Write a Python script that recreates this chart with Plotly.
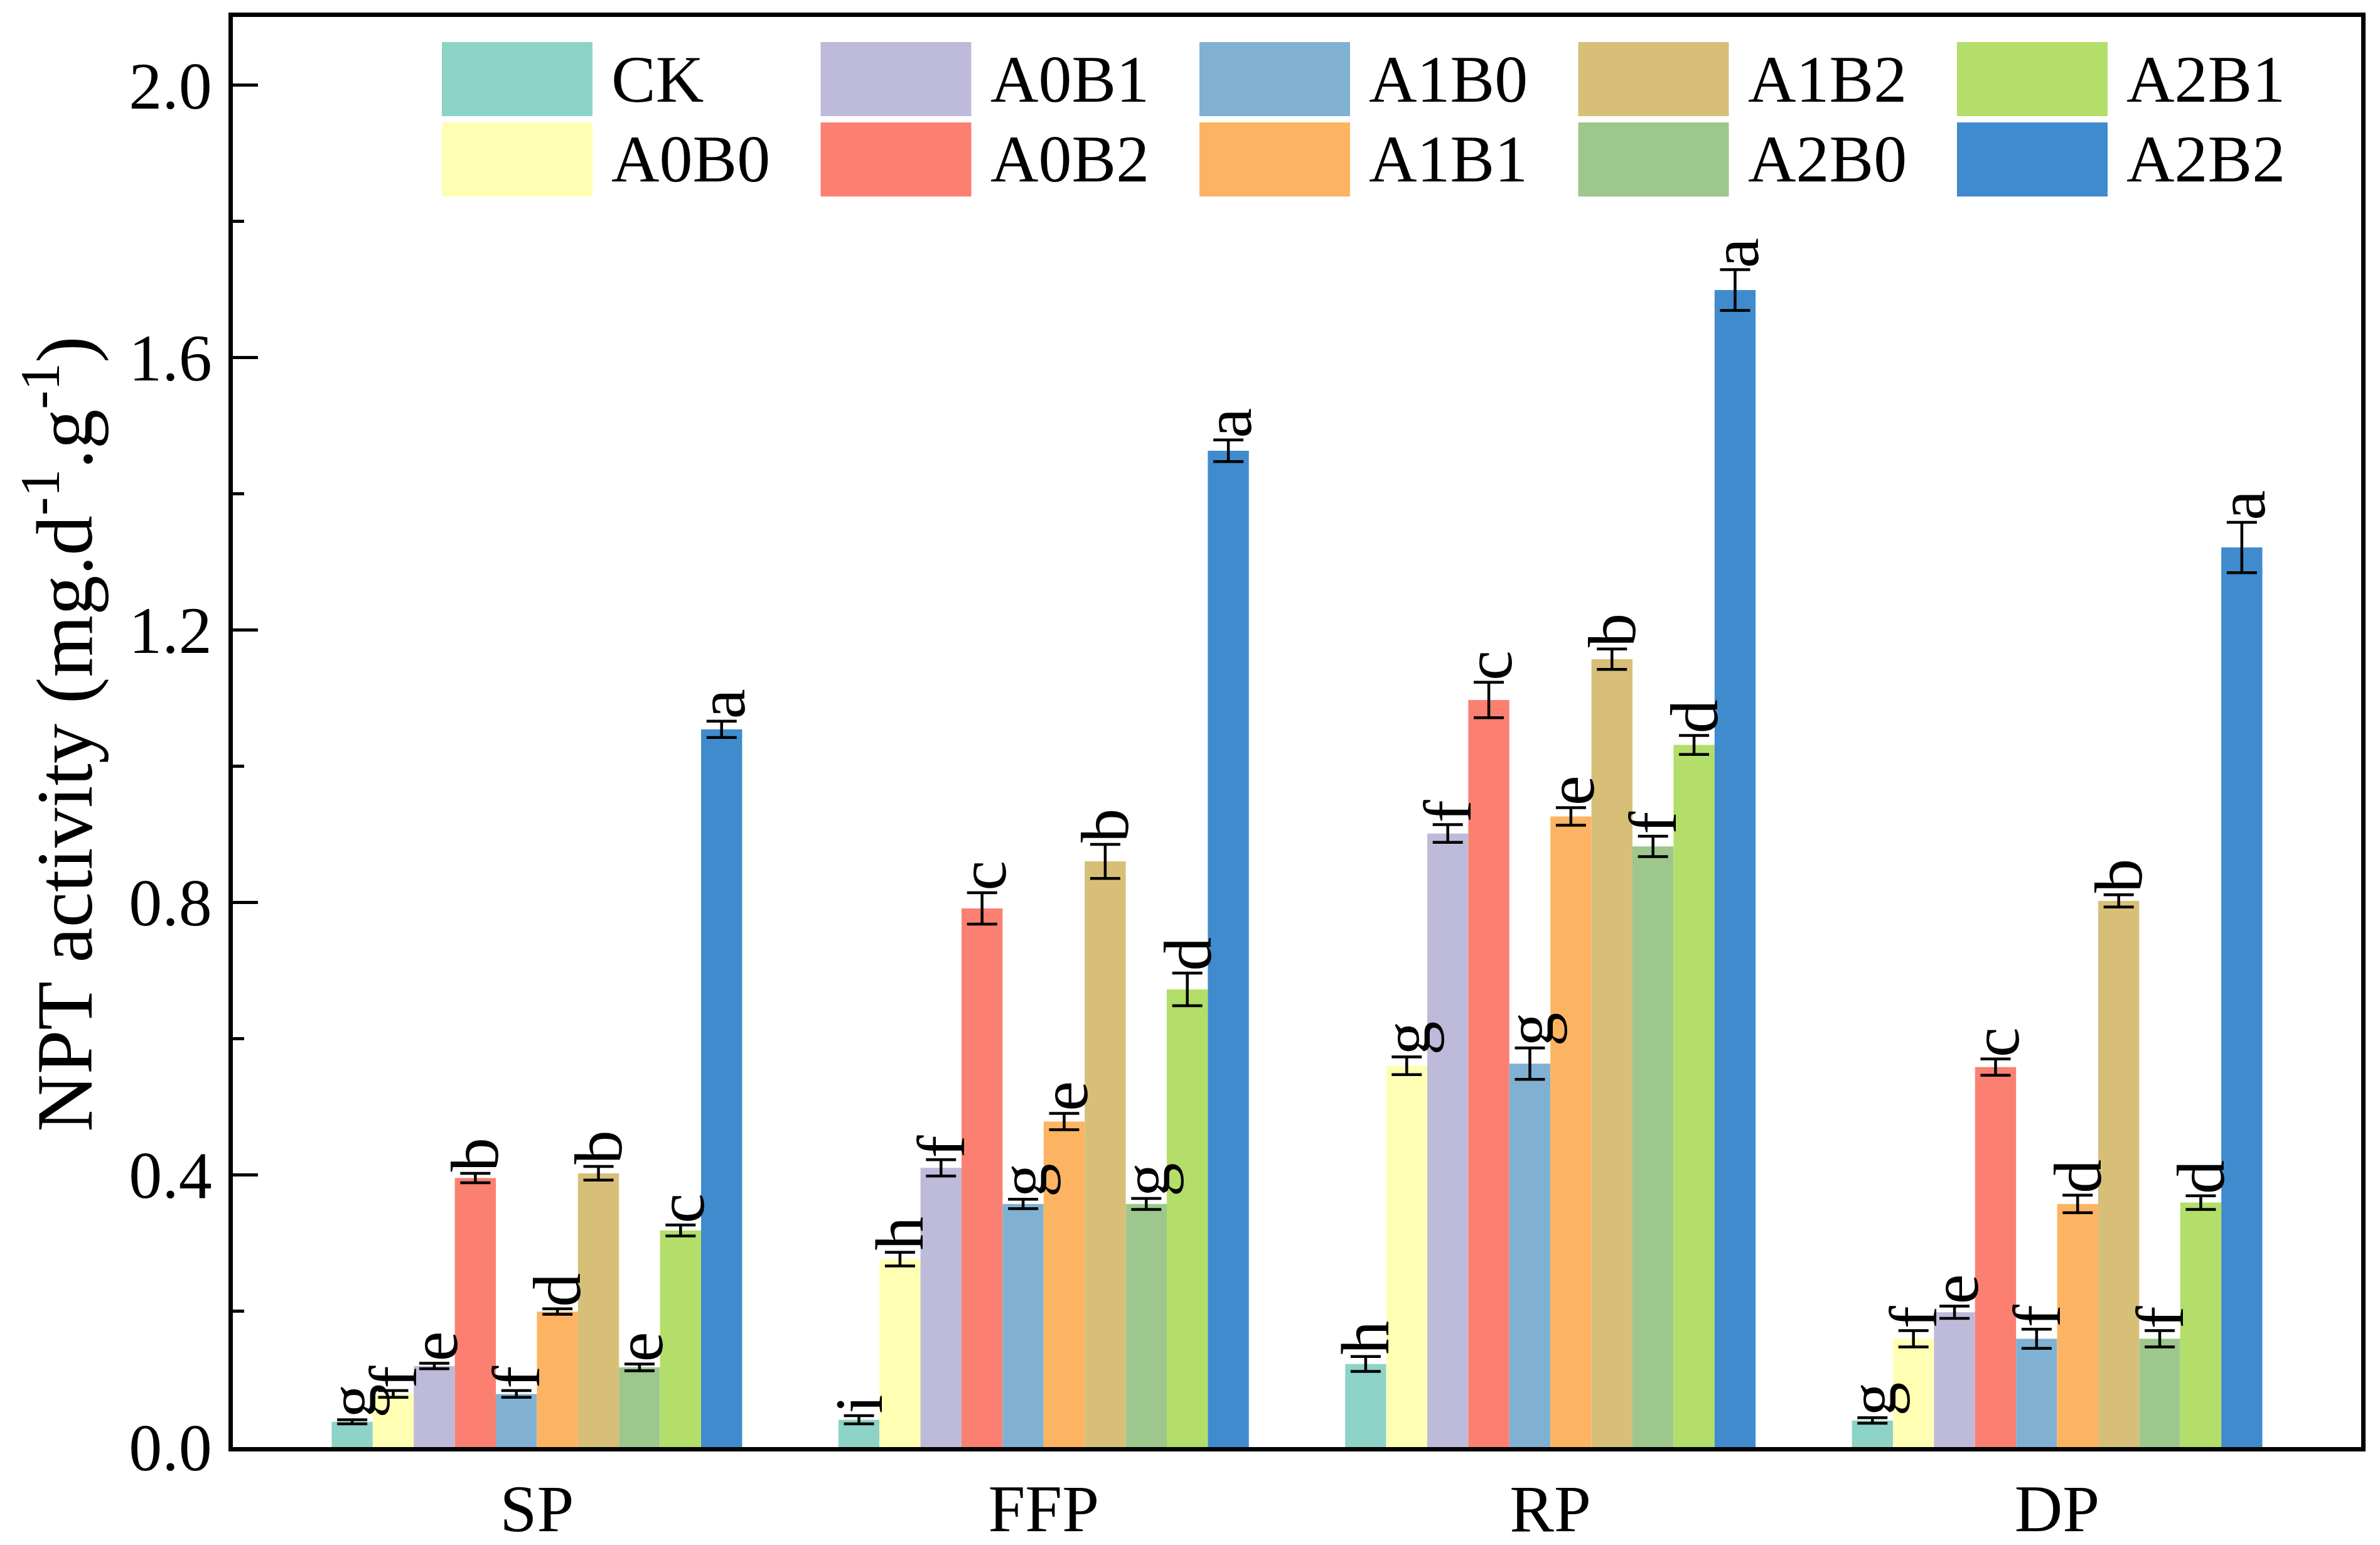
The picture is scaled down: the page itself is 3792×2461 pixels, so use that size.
import plotly.graph_objects as go

# growth stages on the x axis
stages = ['SP', 'FFP', 'RP', 'DP']

# treatments (one bar trace each) and their colours
treatments = ['CK', 'A0B0', 'A0B1', 'A0B2', 'A1B0', 'A1B1', 'A1B2', 'A2B0', 'A2B1', 'A2B2']
colors = ['#8DD3C7', '#FFFFB3', '#BEBADA', '#FB8072', '#80B1D3',
          '#FDB462', '#D7BF78', '#9DC78C', '#B3DE69', '#408BCD']

# mean NPT activity per stage, in treatment order
sp_mean = [0.037, 0.078, 0.119, 0.395, 0.078, 0.199, 0.402, 0.117, 0.318, 1.054]
ffp_mean = [0.040, 0.276, 0.410, 0.791, 0.357, 0.478, 0.860, 0.357, 0.672, 1.463]
rp_mean = [0.122, 0.560, 0.901, 1.097, 0.563, 0.926, 1.157, 0.882, 1.031, 1.699]
dp_mean = [0.039, 0.159, 0.198, 0.558, 0.159, 0.357, 0.802, 0.159, 0.359, 1.321]

# standard errors
sp_err = [0.003, 0.005, 0.004, 0.007, 0.005, 0.004, 0.010, 0.005, 0.008, 0.012]
ffp_err = [0.006, 0.010, 0.012, 0.023, 0.007, 0.012, 0.025, 0.008, 0.024, 0.016]
rp_err = [0.011, 0.013, 0.013, 0.026, 0.023, 0.013, 0.015, 0.015, 0.014, 0.030]
dp_err = [0.004, 0.012, 0.009, 0.012, 0.014, 0.013, 0.009, 0.012, 0.010, 0.037]

# significance letters
sp_sig = ['g', 'f', 'e', 'b', 'f', 'd', 'b', 'e', 'c', 'a']
ffp_sig = ['i', 'h', 'f', 'c', 'g', 'e', 'b', 'g', 'd', 'a']
rp_sig = ['h', 'g', 'f', 'c', 'g', 'e', 'b', 'f', 'd', 'a']
dp_sig = ['g', 'f', 'e', 'c', 'f', 'd', 'b', 'f', 'd', 'a']

means = [sp_mean, ffp_mean, rp_mean, dp_mean]
errs = [sp_err, ffp_err, rp_err, dp_err]
sigs = [sp_sig, ffp_sig, rp_sig, dp_sig]

FONT = 'Liberation Serif'
BARGAP = 0.19

# page / plot area in pixels
W, H = 3792, 2461
L, R, T, B = 371, 30, 27, 156
PW, PH = W - L - R, H - T - B

fig = go.Figure()

xs = list(range(len(stages)))
n = len(treatments)
for j, name in enumerate(treatments):
    fig.add_trace(go.Bar(
        x=xs,
        y=[m[j] for m in means],
        name=name,
        marker=dict(color=colors[j], line=dict(width=0)),
        error_y=dict(type='data', array=[e[j] for e in errs],
                     color='black', thickness=4.5, width=24),
        showlegend=False,
    ))

# letters above the error bars
bw = (1 - BARGAP) / n
for i in xs:
    for j in range(n):
        fig.add_annotation(
            x=i - (1 - BARGAP) / 2 + bw * (j + 0.5),
            y=means[i][j] + errs[i][j],
            text=sigs[i][j], textangle=-90, showarrow=False,
            xanchor='center', yanchor='bottom', yshift=1,
            font=dict(family=FONT, size=108, color='black'),
        )

# legend drawn as big swatches, 2 rows x 5 columns
def px2x(px):
    return (px - L) / PW

def px2y(py):
    return (H - B - py) / PH

for j, name in enumerate(treatments):
    col, row = j // 2, j % 2
    x0 = 704 + col * 603.5
    y0 = 67 + row * 128
    fig.add_shape(type='rect', xref='paper', yref='paper',
                  x0=px2x(x0), x1=px2x(x0 + 240),
                  y0=px2y(y0 + 118), y1=px2y(y0),
                  fillcolor=colors[j], line=dict(width=0))
    fig.add_annotation(xref='paper', yref='paper',
                       x=px2x(x0 + 268), y=px2y(y0 + 59),
                       text=name, showarrow=False,
                       xanchor='left', yanchor='middle',
                       font=dict(family=FONT, size=106, color='black'))

# y axis title
fig.add_annotation(xref='paper', yref='paper', x=0, y=px2y(1170),
                   xshift=-277, xanchor='center', yanchor='middle',
                   text='NPT activity (mg.d<sup>-1</sup>.g<sup>-1</sup>)',
                   textangle=-90, showarrow=False,
                   font=dict(family=FONT, size=127, color='black'))

fig.update_layout(
    width=W, height=H,
    margin=dict(l=L, r=R, t=T, b=B, pad=0),
    barmode='group', bargap=BARGAP, bargroupgap=0,
    plot_bgcolor='white', paper_bgcolor='white',
    font=dict(family=FONT, size=106, color='black'),
)

fig.update_xaxes(
    range=[-0.6, 3.6], tickvals=xs, ticktext=stages,
    ticks='', showline=True, linewidth=7, linecolor='black',
    mirror=True, showgrid=False, zeroline=False,
    ticklabelstandoff=0, automargin=False,
)

fig.update_yaxes(
    range=[0, 2.1], tick0=0, dtick=0.4, tickformat='.1f',
    ticks='inside', ticklen=40, tickwidth=5, tickcolor='black',
    showline=True, linewidth=7, linecolor='black', mirror=True,
    showgrid=False, zeroline=False, ticklabelstandoff=5, automargin=False,
    minor=dict(dtick=0.2, ticks='inside', ticklen=18, tickwidth=5,
               tickcolor='black', showgrid=False),
)

fig.write_html("out.html", config={'displayModeBar': False},
               post_script="document.body.style.margin='0';document.body.style.overflow='hidden';")
